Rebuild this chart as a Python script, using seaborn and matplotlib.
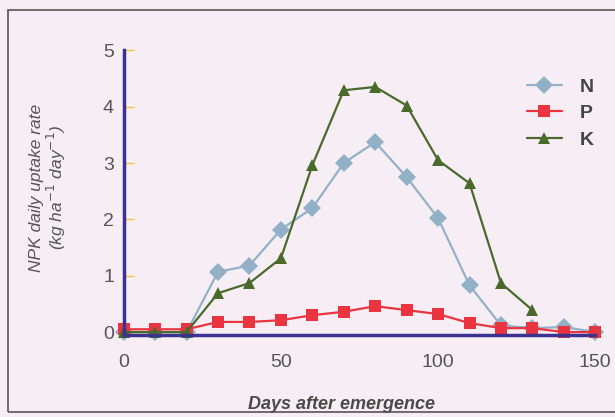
import numpy as np
import pandas as pd
import matplotlib
matplotlib.use("Agg")
import matplotlib.pyplot as plt
from matplotlib.patches import Rectangle
import seaborn as sns

# values (kg/ha/day)
days = [0, 10, 20, 30, 40, 50, 60, 70, 80, 90, 100, 110, 120, 130, 140, 150]
n_rate = [0.0, 0.0, 0.0, 1.07, 1.18, 1.82, 2.2, 3.0, 3.37, 2.75, 2.02, 0.83, 0.12, 0.07, 0.09, 0.0]
p_rate = [0.05, 0.05, 0.05, 0.18, 0.18, 0.21, 0.3, 0.36, 0.46, 0.39, 0.32, 0.16, 0.07, 0.07, 0.0, 0.0]
k_rate = [0.0, 0.0, 0.0, 0.69, 0.87, 1.31, 2.96, 4.29, 4.35, 4.02, 3.05, 2.64, 0.87, 0.39]

nutrients = ["N", "P", "K"]
colors = {"N": "#93b1c6", "P": "#ea3440", "K": "#4a6a2c"}
markers = {"N": "D", "P": "s", "K": "^"}

df = pd.concat([
    pd.DataFrame({"day": days, "rate": n_rate, "nutrient": "N"}),
    pd.DataFrame({"day": days, "rate": p_rate, "nutrient": "P"}),
    pd.DataFrame({"day": days[:len(k_rate)], "rate": k_rate, "nutrient": "K"}),
])

sns.set_style("white")
plt.rcParams["font.family"] = ["Liberation Sans", "DejaVu Sans"]

bg = "#f7eef5"
fig = plt.figure(figsize=(6.15, 4.17), dpi=100, facecolor=bg)
ax = fig.add_axes([108 / 615, 68 / 417, 503 / 615, 310 / 417])
ax.set_facecolor(bg)

# frame around the figure
fig.patches.append(Rectangle((8 / 615, 5 / 417), 1.0, 1 - 15 / 417,
                             transform=fig.transFigure, fill=False,
                             edgecolor="#555555", linewidth=1.2, zorder=0))

sns.lineplot(data=df, x="day", y="rate", hue="nutrient", style="nutrient",
             hue_order=nutrients, style_order=nutrients,
             palette=colors, markers=markers, dashes=False,
             markersize=9, linewidth=1.6, markeredgewidth=0, ax=ax)

ax.set_xlim(-5, 155)
ax.set_ylim(-0.3, 5.2)

for side in ["top", "right"]:
    ax.spines[side].set_visible(False)
ax.spines["left"].set_position(("data", 0))
ax.spines["left"].set_bounds(0, 5)
ax.spines["bottom"].set_position(("data", -0.05))
ax.spines["bottom"].set_bounds(0, 150)
for side in ["left", "bottom"]:
    ax.spines[side].set_color("#3b3190")
    ax.spines[side].set_linewidth(2.5)

ax.set_yticks(range(0, 6))
ax.set_xticks([0, 50, 100, 150])
ax.tick_params(axis="y", direction="in", length=7, width=1, color="#e8c84a",
               pad=7, labelsize=14, labelcolor="#555555")
ax.tick_params(axis="x", length=0, pad=14, labelsize=14, labelcolor="#555555")
ax.yaxis.set_ticks_position("left")

ax.set_xlabel("Days after emergence", fontsize=13, fontstyle="italic",
              fontweight="bold", color="#4a4a4a")
ax.xaxis.set_label_coords((341 - 108) / 503, -0.152)
ax.set_ylabel("NPK daily uptake rate\n(kg ha$^{-1}$ day$^{-1}$)", fontsize=12.5,
              fontstyle="italic", color="#555555", linespacing=1.05)
ax.yaxis.set_label_coords(-0.08, 0.52)

leg = ax.legend(loc="upper right", bbox_to_anchor=(1.0, 0.93), frameon=False,
                fontsize=14, handlelength=1.8, handletextpad=0.9,
                labelspacing=0.45)
for txt in leg.get_texts():
    txt.set_fontweight("bold")
    txt.set_color("#444444")

fig.savefig("out.png", dpi=100, facecolor=bg)
